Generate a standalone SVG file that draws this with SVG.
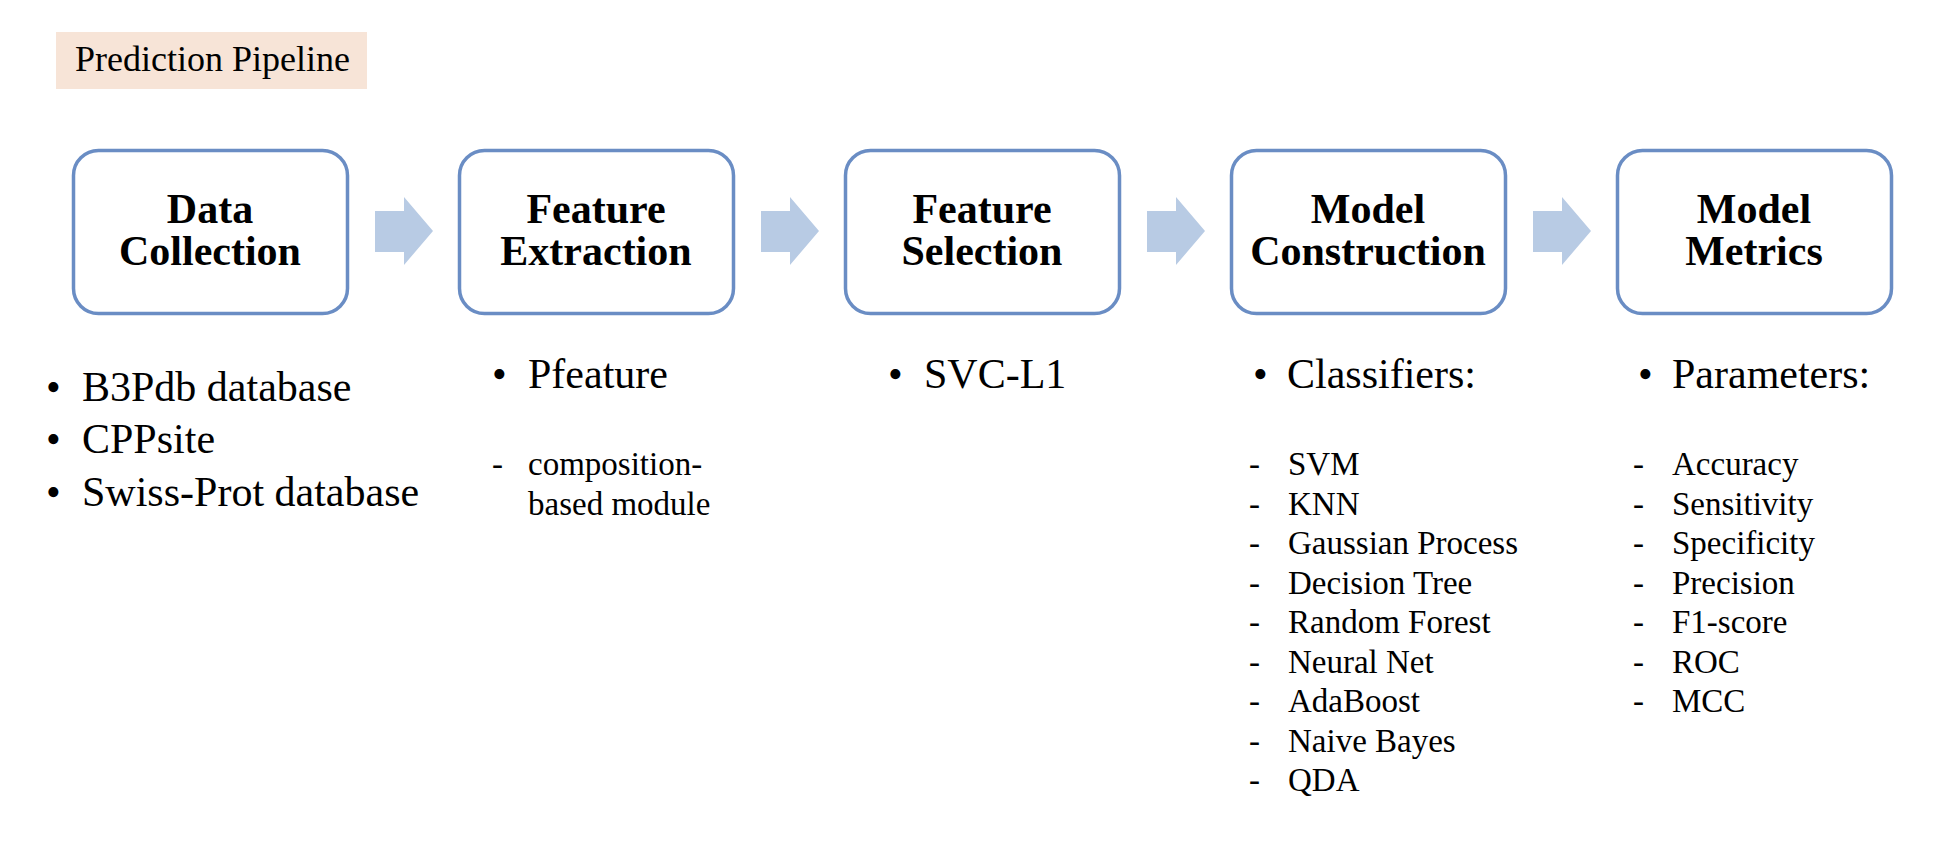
<svg xmlns="http://www.w3.org/2000/svg" width="1958" height="860" viewBox="0 0 1958 860">
<style>
text{font-family:"Liberation Serif","Times New Roman",serif;fill:#000}
.h{font-size:42px;font-weight:bold;text-anchor:middle}
.b{font-size:42px}
.s{font-size:33px}
.box{fill:#fff;stroke:#6a8dc4;stroke-width:3.5}
.arr{fill:#b8cbe4}
</style>
<rect width="1958" height="860" fill="#fff"/>
<g id="title">
<rect x="56" y="32" width="311" height="57" fill="#f7e4d7"/>
<text x="75" y="71" style="font-size:36px">Prediction Pipeline</text>
</g>
<g id="connectors">
<polygon class="arr" points="375,211 404,211 404,197 433,231 404,265 404,252 375,252"/>
<polygon class="arr" points="761,211 790,211 790,197 819,231 790,265 790,252 761,252"/>
<polygon class="arr" points="1147,211 1176,211 1176,197 1205,231 1176,265 1176,252 1147,252"/>
<polygon class="arr" points="1533,211 1562,211 1562,197 1591,231 1562,265 1562,252 1533,252"/>
</g>
<g id="data-collection">
<rect class="box" x="73.5" y="150.5" width="274" height="163" rx="25"/>
<text class="h" x="210" y="223">Data</text>
<text class="h" x="210" y="265">Collection</text>
<text class="b" x="46" y="401">•</text><text class="b" x="82" y="401">B3Pdb database</text>
<text class="b" x="46" y="453">•</text><text class="b" x="82" y="453">CPPsite</text>
<text class="b" x="46" y="506">•</text><text class="b" x="82" y="506">Swiss-Prot database</text>
</g>
<g id="feature-extraction">
<rect class="box" x="459.5" y="150.5" width="274" height="163" rx="25"/>
<text class="h" x="596" y="223">Feature</text>
<text class="h" x="596" y="265">Extraction</text>
<text class="b" x="492" y="388">•</text><text class="b" x="528" y="388">Pfeature</text>
<text class="s" x="492" y="475">-</text><text class="s" x="528" y="475">composition-</text>
<text class="s" x="528" y="515">based module</text>
</g>
<g id="feature-selection">
<rect class="box" x="845.5" y="150.5" width="274" height="163" rx="25"/>
<text class="h" x="982" y="223">Feature</text>
<text class="h" x="982" y="265">Selection</text>
<text class="b" x="888" y="388">•</text><text class="b" x="924" y="388">SVC-L1</text>
</g>
<g id="model-construction">
<rect class="box" x="1231.5" y="150.5" width="274" height="163" rx="25"/>
<text class="h" x="1368" y="223">Model</text>
<text class="h" x="1368" y="265">Construction</text>
<text class="b" x="1253" y="388">•</text><text class="b" x="1287" y="388">Classifiers:</text>
<text class="s" x="1249" y="475">-</text><text class="s" x="1288" y="475">SVM</text>
<text class="s" x="1249" y="514.5">-</text><text class="s" x="1288" y="514.5">KNN</text>
<text class="s" x="1249" y="554">-</text><text class="s" x="1288" y="554">Gaussian Process</text>
<text class="s" x="1249" y="593.5">-</text><text class="s" x="1288" y="593.5">Decision Tree</text>
<text class="s" x="1249" y="633">-</text><text class="s" x="1288" y="633">Random Forest</text>
<text class="s" x="1249" y="672.5">-</text><text class="s" x="1288" y="672.5">Neural Net</text>
<text class="s" x="1249" y="712">-</text><text class="s" x="1288" y="712">AdaBoost</text>
<text class="s" x="1249" y="751.5">-</text><text class="s" x="1288" y="751.5">Naive Bayes</text>
<text class="s" x="1249" y="791">-</text><text class="s" x="1288" y="791">QDA</text>
</g>
<g id="model-metrics">
<rect class="box" x="1617.5" y="150.5" width="274" height="163" rx="25"/>
<text class="h" x="1754" y="223">Model</text>
<text class="h" x="1754" y="265">Metrics</text>
<text class="b" x="1638" y="388">•</text><text class="b" x="1672" y="388">Parameters:</text>
<text class="s" x="1633" y="475">-</text><text class="s" x="1672" y="475">Accuracy</text>
<text class="s" x="1633" y="514.5">-</text><text class="s" x="1672" y="514.5">Sensitivity</text>
<text class="s" x="1633" y="554">-</text><text class="s" x="1672" y="554">Specificity</text>
<text class="s" x="1633" y="593.5">-</text><text class="s" x="1672" y="593.5">Precision</text>
<text class="s" x="1633" y="633">-</text><text class="s" x="1672" y="633">F1-score</text>
<text class="s" x="1633" y="672.5">-</text><text class="s" x="1672" y="672.5">ROC</text>
<text class="s" x="1633" y="712">-</text><text class="s" x="1672" y="712">MCC</text>
</g>
</svg>
